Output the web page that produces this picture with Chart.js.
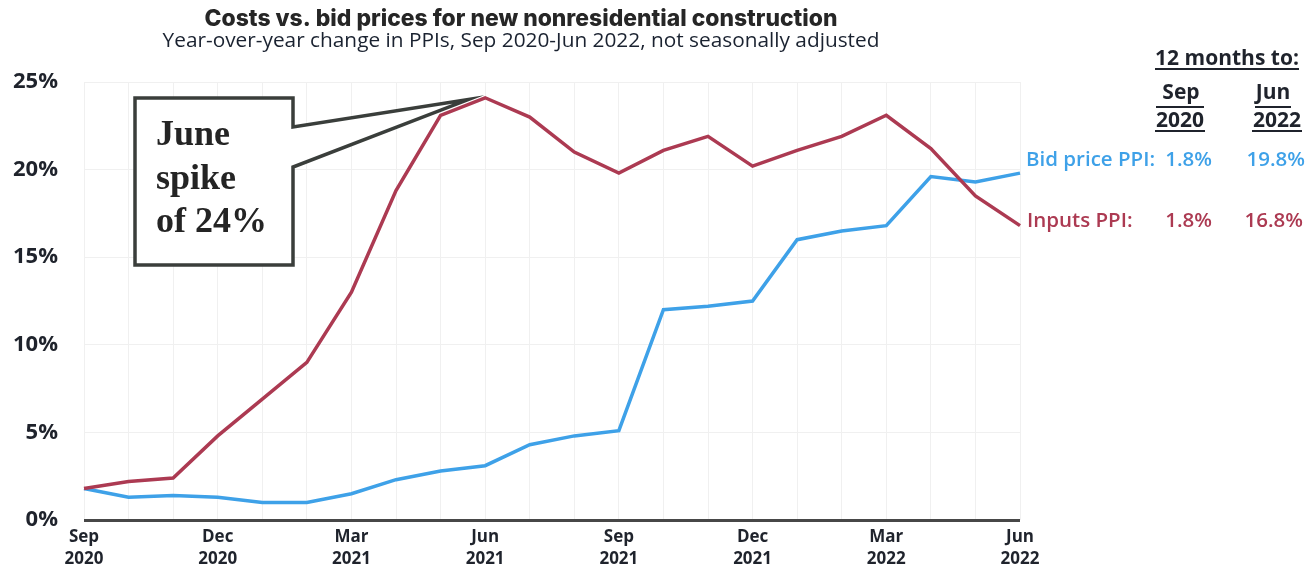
<!DOCTYPE html>
<html>
<head>
<meta charset="utf-8">
<script src="https://cdn.jsdelivr.net/npm/chart.js@4.4.1/dist/chart.umd.min.js"></script>
<style>
  html, body { margin: 0; padding: 0; background: #fff; }
  #wrap { width: 1313px; height: 567px; }
</style>
</head>
<body>
<div id="wrap"><canvas id="chart" width="1313" height="567"></canvas></div>
<script>
// monthly points, Sep 2020 .. Jun 2022
const months = [
  'Sep 2020', 'Oct 2020', 'Nov 2020', 'Dec 2020', 'Jan 2021', 'Feb 2021',
  'Mar 2021', 'Apr 2021', 'May 2021', 'Jun 2021', 'Jul 2021', 'Aug 2021',
  'Sep 2021', 'Oct 2021', 'Nov 2021', 'Dec 2021', 'Jan 2022', 'Feb 2022',
  'Mar 2022', 'Apr 2022', 'May 2022', 'Jun 2022'
];
// labelled every third month
const tickLabels = [
  ['Sep', '2020'], ['Dec', '2020'], ['Mar', '2021'], ['Jun', '2021'],
  ['Sep', '2021'], ['Dec', '2021'], ['Mar', '2022'], ['Jun', '2022']
];
const inputsPPI = [1.8, 2.2, 2.4, 4.8, 6.9, 9.0, 13.0, 18.8, 23.1, 24.1, 23.0, 21.0,
                   19.8, 21.1, 21.9, 20.2, 21.1, 21.9, 23.1, 21.2, 18.5, 16.8];
const bidPPI    = [1.8, 1.3, 1.4, 1.3, 1.0, 1.0, 1.5, 2.3, 2.8, 3.1, 4.3, 4.8,
                   5.1, 12.0, 12.2, 12.5, 16.0, 16.5, 16.8, 19.6, 19.3, 19.8];
const yTicks = [0, 5, 10, 15, 20, 25];

const BLUE = '#3ea1e8';
const RED  = '#ac3a52';
const INK  = '#1f232c';

// font size so that text spans a given width
function fitFont(ctx, text, weight, family, width) {
  ctx.font = weight + ' 20px ' + family;
  const size = 20 * width / ctx.measureText(text).width;
  return weight + ' ' + size.toFixed(2) + 'px ' + family;
}

function underline(ctx, x1, x2, y) {
  ctx.beginPath();
  ctx.moveTo(x1, y);
  ctx.lineTo(x2, y);
  ctx.stroke();
}

const extras = {
  id: 'extras',
  afterDraw(chart) {
    const ctx = chart.ctx;
    const xs = chart.scales.x, ys = chart.scales.y;
    ctx.save();

    // titles
    ctx.textAlign = 'center';
    ctx.textBaseline = 'alphabetic';
    ctx.fillStyle = '#262626';
    const title = 'Costs vs. bid prices for new nonresidential construction';
    ctx.font = fitFont(ctx, title, '800', 'Inter, sans-serif', 633);
    ctx.fillText(title, 521, 26);
    const sub = 'Year-over-year change in PPIs, Sep 2020-Jun 2022, not seasonally adjusted';
    ctx.fillStyle = '#1a2230';
    ctx.font = fitFont(ctx, sub, '400', '"Open Sans", sans-serif', 717);
    ctx.fillText(sub, 521, 47);

    // callout box pointing at the June 2021 spike
    const tipX = xs.getPixelForValue(8.62);
    const tipY = ys.getPixelForValue(24.0);
    ctx.beginPath();
    ctx.moveTo(135, 98);
    ctx.lineTo(293, 98);
    ctx.lineTo(293, 127);
    ctx.lineTo(tipX, tipY);
    ctx.lineTo(293, 167);
    ctx.lineTo(293, 265);
    ctx.lineTo(135, 265);
    ctx.closePath();
    ctx.fillStyle = '#fff';
    ctx.fill();
    ctx.lineWidth = 3.5;
    ctx.lineJoin = 'miter';
    ctx.strokeStyle = '#3a3e3b';
    ctx.stroke();

    ctx.textAlign = 'left';
    ctx.fillStyle = '#242424';
    ctx.font = 'bold 36px "Liberation Serif", "DejaVu Serif", serif';
    ctx.fillText('June', 156, 145);
    ctx.fillText('spike', 156, 189);
    ctx.fillText('of 24%', 156, 232);

    // right-hand summary table
    ctx.fillStyle = INK;
    ctx.strokeStyle = INK;
    ctx.lineWidth = 2;
    ctx.font = 'bold 21px "Open Sans", sans-serif';
    ctx.textAlign = 'center';
    ctx.fillText('12 months to:', 1227, 65);
    underline(ctx, 1155, 1299, 69);
    ctx.fillText('Sep', 1181, 99);
    underline(ctx, 1156, 1204, 107);
    ctx.fillText('Jun', 1273, 99);
    underline(ctx, 1255, 1291, 107);
    ctx.fillText('2020', 1180, 127);
    underline(ctx, 1155, 1205, 131);
    ctx.fillText('2022', 1277, 127);
    underline(ctx, 1252, 1302, 131);

    ctx.font = '600 20.5px "Open Sans", sans-serif';
    ctx.fillStyle = BLUE;
    ctx.textAlign = 'left';
    ctx.fillText('Bid price PPI:', 1026, 166);
    ctx.textAlign = 'right';
    ctx.fillText(bidPPI[0].toFixed(1) + '%', 1212, 166);
    ctx.fillText(bidPPI[bidPPI.length - 1].toFixed(1) + '%', 1305, 166);

    ctx.fillStyle = RED;
    ctx.textAlign = 'left';
    ctx.fillText('Inputs PPI:', 1027, 227);
    ctx.textAlign = 'right';
    ctx.fillText(inputsPPI[0].toFixed(1) + '%', 1212, 227);
    ctx.fillText(inputsPPI[inputsPPI.length - 1].toFixed(1) + '%', 1303, 227);

    ctx.restore();
  }
};

new Chart(document.getElementById('chart'), {
  type: 'line',
  data: {
    labels: months,
    datasets: [
      {
        label: 'Inputs PPI',
        data: inputsPPI,
        borderColor: RED,
        borderWidth: 3.5,
        pointRadius: 0,
        tension: 0
      },
      {
        label: 'Bid price PPI',
        data: bidPPI,
        borderColor: BLUE,
        borderWidth: 3.5,
        pointRadius: 0,
        tension: 0
      }
    ]
  },
  options: {
    responsive: false,
    animation: false,
    devicePixelRatio: 1,
    layout: { padding: { top: 82, right: 293, left: 0, bottom: 0 } },
    plugins: {
      legend: { display: false },
      tooltip: { enabled: false }
    },
    scales: {
      x: {
        border: { display: false },
        grid: { color: '#f0f0f0', lineWidth: 1, drawTicks: false },
        ticks: {
          autoSkip: false,
          maxRotation: 0,
          padding: 6,
          color: INK,
          font: { family: '"Open Sans", sans-serif', size: 17, weight: 'bold', lineHeight: 1.3 },
          callback: (v, i) => (i % 3 === 0 ? tickLabels[i / 3] : '')
        },
        afterFit: (scale) => { scale.height = 47; }
      },
      y: {
        min: 0,
        max: 25,
        border: { display: false },
        afterBuildTicks: (scale) => { scale.ticks = yTicks.map(v => ({ value: v })); },
        grid: {
          drawTicks: false,
          color: (c) => (c.tick && c.tick.value === 0 ? '#474747' : '#f0f0f0'),
          lineWidth: (c) => (c.tick && c.tick.value === 0 ? 3 : 1)
        },
        ticks: {
          padding: 26,
          color: INK,
          font: { family: '"Open Sans", sans-serif', size: 22, weight: 'bold' },
          callback: (v) => v + '%'
        },
        afterFit: (scale) => { scale.width = 84; }
      }
    }
  },
  plugins: [extras]
});
</script>
</body>
</html>
